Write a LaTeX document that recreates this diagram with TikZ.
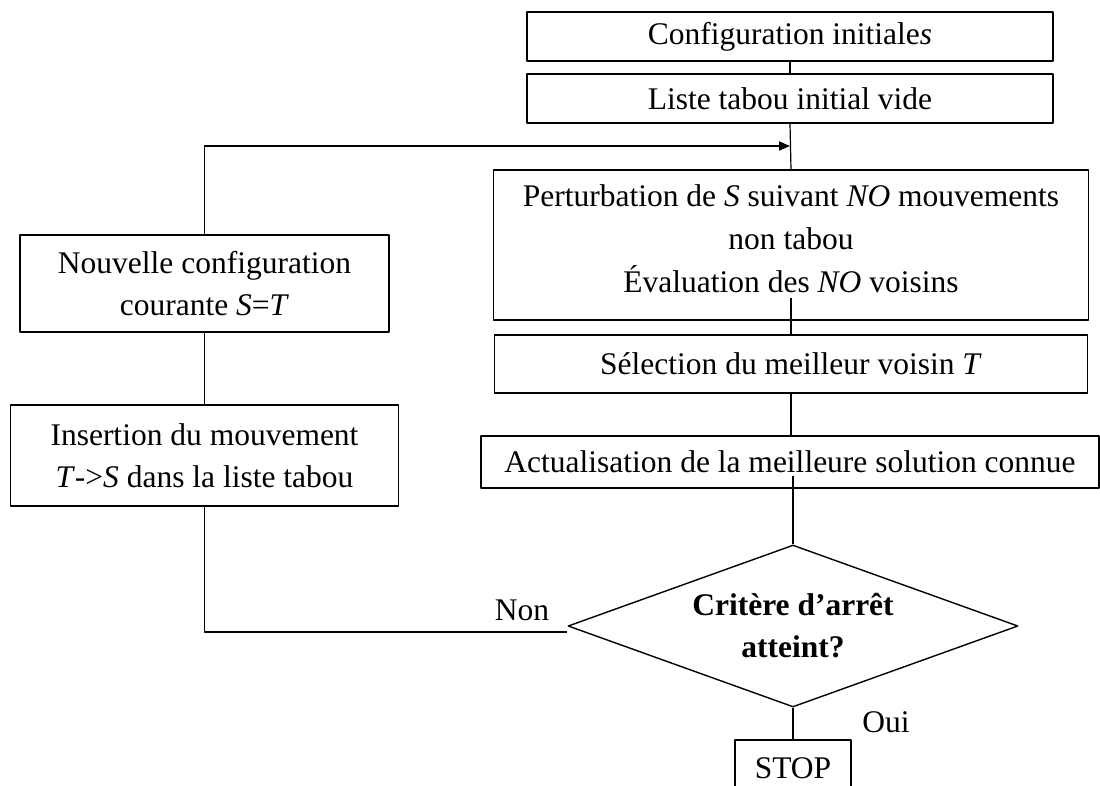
\documentclass[tikz,border=0pt]{standalone}
\usepackage{fontspec}
\setmainfont{Liberation Serif}
\usetikzlibrary{shapes.geometric,arrows.meta}

\begin{document}
\begin{tikzpicture}[x=1pt, y=-1pt, line join=round,
  box/.style={draw, line width=1.4pt, inner sep=0pt, align=center,
    font=\fontsize{31.5}{42}\selectfont},
  test/.style={diamond, draw, line width=1.4pt, inner sep=0pt, shape aspect=2.78,
    minimum width=450pt, minimum height=162pt, align=center,
    font=\fontsize{31.5}{42}\selectfont\bfseries},
  lien/.style={line width=1.2pt},
  fleche/.style={line width=1.8pt, -{Triangle[length=11pt,width=9pt]}},
  lbl/.style={inner sep=0pt, align=center, font=\fontsize{31.5}{42}\selectfont}]

  %% ════ colonne de droite ════
  \node[box, minimum width=526pt, minimum height=49pt] (cfg) at (790,36.5) {Configuration initiale\textit{s}};
  \node[box, minimum width=526pt, minimum height=49pt] (liste) at (790,98.5) {Liste tabou initial vide};
  \node[box, minimum width=595pt, minimum height=150pt] (pert) at (791,245) {};
  \node[lbl, font=\fontsize{31.5}{43}\selectfont] (perttxt) at (791,239)
    {Perturbation de \textit{S} suivant \textit{NO} mouvements\\non tabou\\Évaluation des \textit{NO} voisins};
  \node[box, minimum width=593pt, minimum height=58pt] (sel) at (791,364) {Sélection du meilleur voisin \textit{T}};
  \node[box, minimum width=618pt, minimum height=52pt] (actu) at (790,462) {Actualisation de la meilleure solution connue};
  \node[test] (crit) at (793,626) {Critère d’arrêt\\atteint?};
  \node[box, minimum width=116pt, minimum height=56pt] (stop) at (793,768) {STOP};

  %% ════ colonne de gauche ════
  \node[box, minimum width=369pt, minimum height=97pt] (nouv) at (204.5,283.5) {Nouvelle configuration\\courante \textit{S}=\textit{T}};
  \node[box, minimum width=388pt, minimum height=101pt] (insert) at (204.5,455.5) {Insertion du mouvement\\\textit{T}->\textit{S} dans la liste tabou};

  %% ════ étiquettes ════
  \node[lbl] (non) at (522,610) {Non};
  \node[lbl] (oui) at (886,722) {Oui};

  %% ════ liaisons ════
  \coordinate (merge) at (liste.south |- 0,146);
  \draw[lien] (cfg.south) -- (liste.north);
  \draw[lien] (liste.south) -- (pert.north);
  \draw[lien] ([yshift=23pt]pert.south) -- (sel.north);
  \draw[lien] (sel.south) -- (actu.north -| sel.south);
  \draw[lien] ([yshift=13pt]actu.south -| crit.north) -- (crit.north);
  \draw[lien] (crit.south) -- (stop.north);
  \draw[lien] (insert.south) |- ([yshift=-6pt]crit.west);
  \draw[lien] (insert.north) -- (nouv.south);
  \draw[fleche] (nouv.north) |- (merge);

  % cadre fixe
  \pgfresetboundingbox
  \path[use as bounding box] (0,0) rectangle (1100,785);
\end{tikzpicture}
\end{document}
